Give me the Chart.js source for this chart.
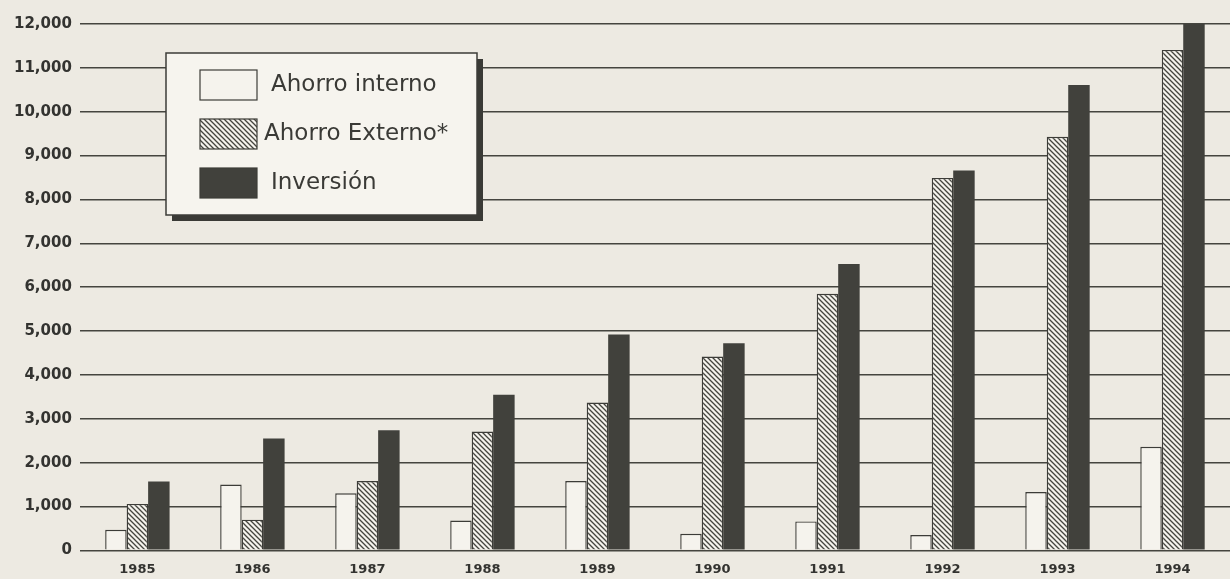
<!DOCTYPE html>
<html>
<head>
<meta charset="utf-8">
<title>Ahorro e Inversión</title>
<script src="https://cdn.jsdelivr.net/npm/chart.js@4/dist/chart.umd.min.js"></script>
<style>
  html, body { margin: 0; padding: 0; background: #edeae2; }
  #chart { display: block; }
</style>
</head>
<body>
<canvas id="chart" width="1230" height="579"></canvas>
<script>
// years on the x axis
const years = ['1985', '1986', '1987', '1988', '1989', '1990', '1991', '1992', '1993', '1994'];

// values
const ahorroInterno = [470, 1500, 1300, 680, 1580, 380, 660, 350, 1330, 2360];
const ahorroExterno = [1060, 700, 1580, 2710, 3370, 4420, 5850, 8490, 9430, 11410];
const inversion = [1570, 2550, 2740, 3550, 4920, 4720, 6530, 8660, 10610, 12000];

const seriesNames = ['Ahorro interno', 'Ahorro Externo*', 'Inversión'];

const INK = '#3c3c38';
const PAPER = '#edeae2';

// diagonal hatch for the external savings bars
function makeHatch(){
    let s = 5;
    let c = document.createElement('canvas');
    c.width = s;
    c.height = s;
    let g = c.getContext('2d');
    g.fillStyle = '#f5f3ed';
    g.fillRect(0, 0, s, s);
    g.strokeStyle = '#45453f';
    g.lineWidth = 1.3;
    g.beginPath();
    g.moveTo(-1, -1); g.lineTo(s + 1, s + 1);
    g.moveTo(-1, s - 1); g.lineTo(1, s + 1);
    g.moveTo(s - 1, -1); g.lineTo(s + 1, 1);
    g.stroke();
    return g.createPattern(c, 'repeat');
}
const hatch = makeHatch();

const paperBg = {
    id: 'paperBg',
    beforeDraw(chart){
        let ctx = chart.ctx;
        ctx.save();
        ctx.fillStyle = PAPER;
        ctx.fillRect(0, 0, chart.width, chart.height);
        ctx.restore();
    }
};

// boxed legend with a drop shadow, like the printed one
const boxLegend = {
    id: 'boxLegend',
    afterDraw(chart){
        let ctx = chart.ctx;
        let x = 166, y = 53, w = 311, h = 162;
        ctx.save();
        ctx.fillStyle = '#3a3a36';
        ctx.fillRect(x + 6, y + 6, w, h);
        ctx.fillStyle = '#f6f4ee';
        ctx.fillRect(x, y, w, h);
        ctx.strokeStyle = INK;
        ctx.lineWidth = 1.5;
        ctx.strokeRect(x, y, w, h);
        ctx.font = '23px "DejaVu Sans"';
        ctx.textBaseline = 'middle';
        chart.data.datasets.forEach(function(ds, i){
            let sy = 70 + i * 49;
            ctx.fillStyle = ds.backgroundColor;
            ctx.fillRect(200, sy, 57, 30);
            ctx.strokeStyle = INK;
            ctx.lineWidth = 1.2;
            ctx.strokeRect(200, sy, 57, 30);
            ctx.fillStyle = '#3a3a36';
            ctx.fillText(ds.label, i == 1 ? 264 : 271, sy + 15);
        });
        ctx.restore();
    }
};

let barChart = new Chart(document.getElementById('chart'), {
    type: 'bar',
    data: {
        labels: years,
        datasets: [
            {
                label: seriesNames[0],
                data: ahorroInterno,
                backgroundColor: '#f5f3ed',
                borderColor: INK,
                borderWidth: 1.4
            },
            {
                label: seriesNames[1],
                data: ahorroExterno,
                backgroundColor: hatch,
                borderColor: INK,
                borderWidth: 1.4
            },
            {
                label: seriesNames[2],
                data: inversion,
                backgroundColor: '#41413c',
                borderColor: '#41413c',
                borderWidth: 0
            }
        ]
    },
    options: {
        responsive: false,
        animation: false,
        devicePixelRatio: 1,
        layout: { padding: { left: 6, right: 0, top: 24, bottom: -9 } },
        datasets: {
            bar: { barPercentage: 1.0, categoryPercentage: 0.56 }
        },
        plugins: {
            legend: { display: false },
            tooltip: { enabled: false }
        },
        scales: {
            x: {
                grid: { display: false, drawTicks: false },
                border: { display: false },
                ticks: {
                    color: '#333330',
                    padding: 11,
                    font: { family: '"DejaVu Sans"', size: 13, weight: 'bold' }
                }
            },
            y: {
                min: 0,
                max: 12000,
                border: { display: false },
                grid: { color: '#45453f', lineWidth: 1.6, drawTicks: false },
                ticks: {
                    stepSize: 1000,
                    padding: 8,
                    color: '#333330',
                    font: { family: '"DejaVu Sans"', size: 15, weight: 'bold' },
                    callback: function(v){ return v.toLocaleString('en-US'); }
                }
            }
        }
    },
    plugins: [paperBg, boxLegend]
});
</script>
</body>
</html>
